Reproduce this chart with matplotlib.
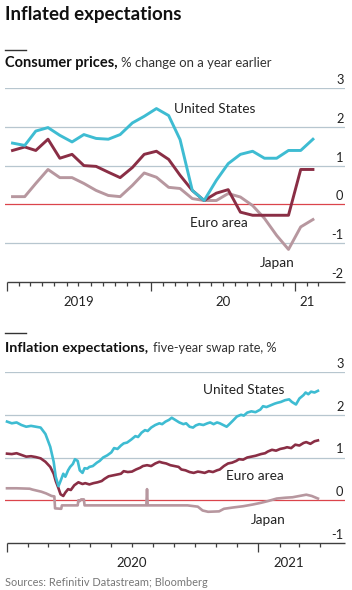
import matplotlib
matplotlib.use("Agg")
import matplotlib.pyplot as plt
import matplotlib.dates as mdates
from matplotlib.lines import Line2D
from matplotlib.transforms import blended_transform_factory
import pandas as pd
import numpy as np

FONT = "Lato"
plt.rcParams['font.family'] = [FONT, 'DejaVu Sans']

# ---------------- data ----------------
cpi_months = pd.date_range("2019-01-01", periods=26, freq="MS") + pd.Timedelta(days=14)
us_cpi = [1.58, 1.52, 1.89, 1.98, 1.78, 1.61, 1.80, 1.70, 1.68, 1.80, 2.10, 2.27, 2.47,
          2.29, 1.67, 0.36, 0.10, 0.62, 1.05, 1.29, 1.37, 1.19, 1.19, 1.39, 1.39, 1.68]
euro_cpi = [1.39, 1.48, 1.39, 1.68, 1.19, 1.29, 1.00, 0.98, 0.83, 0.69, 0.95, 1.29, 1.37,
            1.16, 0.75, 0.36, 0.10, 0.29, 0.38, -0.20, -0.28, -0.28, -0.28, -0.28, 0.90, 0.90]
japan_cpi = [0.20, 0.20, 0.54, 0.90, 0.69, 0.69, 0.54, 0.36, 0.23, 0.20, 0.49, 0.81, 0.70,
             0.44, 0.41, 0.15, 0.10, 0.10, 0.28, 0.19, -0.03, -0.36, -0.80, -1.16, -0.58, -0.39]

us_swap_dates = ["2020-01-01", "2020-01-08", "2020-01-15", "2020-01-22", "2020-01-29", "2020-02-05",
                 "2020-02-12", "2020-02-19", "2020-02-26", "2020-03-04", "2020-03-09", "2020-03-12",
                 "2020-03-16", "2020-03-19", "2020-03-23", "2020-03-26", "2020-03-30", "2020-04-02",
                 "2020-04-06", "2020-04-09", "2020-04-13", "2020-04-16", "2020-04-20", "2020-04-23",
                 "2020-04-27", "2020-04-30", "2020-05-05", "2020-05-11", "2020-05-15", "2020-05-20",
                 "2020-05-26", "2020-06-01", "2020-06-05", "2020-06-10", "2020-06-15", "2020-06-19",
                 "2020-06-24", "2020-06-30", "2020-07-06", "2020-07-10", "2020-07-15", "2020-07-20",
                 "2020-07-24", "2020-07-29", "2020-08-04", "2020-08-10", "2020-08-14", "2020-08-19",
                 "2020-08-24", "2020-08-28", "2020-09-02", "2020-09-08", "2020-09-14", "2020-09-18",
                 "2020-09-23", "2020-09-28", "2020-10-02", "2020-10-07", "2020-10-13", "2020-10-19",
                 "2020-10-23", "2020-10-28", "2020-11-02", "2020-11-06", "2020-11-11", "2020-11-16",
                 "2020-11-20", "2020-11-25", "2020-12-01", "2020-12-07", "2020-12-11", "2020-12-16",
                 "2020-12-22", "2020-12-28", "2021-01-04", "2021-01-08", "2021-01-13", "2021-01-19",
                 "2021-01-25", "2021-01-29", "2021-02-03", "2021-02-09", "2021-02-15", "2021-02-19",
                 "2021-02-25", "2021-03-02", "2021-03-08", "2021-03-11", "2021-03-15", "2021-03-19",
                 "2021-03-24", "2021-03-29"]
us_swap = [1.84, 1.80, 1.82, 1.76, 1.72, 1.74, 1.72, 1.70, 1.55, 1.25, 0.90, 0.55,
           0.33, 0.45, 0.62, 0.55, 0.70, 0.78, 0.85, 0.96, 0.92, 0.70, 0.64, 0.75,
           0.74, 0.78, 0.80, 0.88, 0.92, 1.00, 1.05, 1.12, 1.22, 1.20, 1.28, 1.33,
           1.35, 1.42, 1.50, 1.48, 1.58, 1.64, 1.62, 1.70, 1.76, 1.80, 1.78, 1.84,
           1.88, 1.93, 1.88, 1.82, 1.78, 1.80, 1.72, 1.70, 1.75, 1.78, 1.76, 1.80,
           1.82, 1.78, 1.82, 1.80, 1.76, 1.72, 1.78, 1.86, 1.96, 2.00, 1.98, 2.05,
           2.08, 2.06, 2.12, 2.20, 2.18, 2.22, 2.26, 2.28, 2.30, 2.34, 2.36, 2.30,
           2.24, 2.38, 2.46, 2.52, 2.48, 2.54, 2.52, 2.56]

euro_swap_dates = ["2020-01-01", "2020-01-08", "2020-01-15", "2020-01-22", "2020-01-29", "2020-02-05",
                   "2020-02-12", "2020-02-19", "2020-02-26", "2020-03-04", "2020-03-09", "2020-03-12",
                   "2020-03-16", "2020-03-19", "2020-03-23", "2020-03-26", "2020-03-30", "2020-04-03",
                   "2020-04-08", "2020-04-14", "2020-04-20", "2020-04-24", "2020-04-30", "2020-05-06",
                   "2020-05-12", "2020-05-18", "2020-05-22", "2020-05-28", "2020-06-03", "2020-06-09",
                   "2020-06-15", "2020-06-19", "2020-06-25", "2020-07-01", "2020-07-07", "2020-07-13",
                   "2020-07-17", "2020-07-23", "2020-07-29", "2020-08-04", "2020-08-10", "2020-08-14",
                   "2020-08-20", "2020-08-26", "2020-09-01", "2020-09-07", "2020-09-11", "2020-09-17",
                   "2020-09-23", "2020-09-29", "2020-10-05", "2020-10-09", "2020-10-15", "2020-10-21",
                   "2020-10-27", "2020-11-02", "2020-11-06", "2020-11-12", "2020-11-18", "2020-11-24",
                   "2020-11-30", "2020-12-04", "2020-12-10", "2020-12-16", "2020-12-22", "2020-12-28",
                   "2021-01-05", "2021-01-11", "2021-01-15", "2021-01-21", "2021-01-27", "2021-02-02",
                   "2021-02-08", "2021-02-12", "2021-02-18", "2021-02-24", "2021-03-02", "2021-03-08",
                   "2021-03-12", "2021-03-18", "2021-03-24", "2021-03-29"]
euro_swap = [1.09, 1.08, 1.10, 1.06, 1.02, 1.03, 1.01, 0.98, 0.90, 0.78, 0.62, 0.45,
             0.28, 0.14, 0.10, 0.18, 0.26, 0.24, 0.35, 0.42, 0.38, 0.40, 0.37, 0.40,
             0.42, 0.45, 0.50, 0.56, 0.58, 0.60, 0.62, 0.68, 0.66, 0.67, 0.72, 0.76,
             0.80, 0.82, 0.80, 0.86, 0.90, 0.88, 0.86, 0.82, 0.80, 0.78, 0.72, 0.70,
             0.66, 0.64, 0.67, 0.66, 0.64, 0.68, 0.66, 0.70, 0.72, 0.80, 0.86, 0.88,
             0.92, 0.96, 0.95, 1.00, 1.02, 1.04, 1.08, 1.10, 1.14, 1.18, 1.16, 1.20,
             1.22, 1.24, 1.22, 1.30, 1.28, 1.34, 1.36, 1.32, 1.38, 1.40]

japan_swap_dates = ["2020-01-01", "2020-01-15", "2020-02-03", "2020-02-07", "2020-02-20", "2020-02-27",
                    "2020-03-06", "2020-03-10", "2020-03-11", "2020-03-20", "2020-03-21", "2020-04-13",
                    "2020-04-14", "2020-04-16", "2020-04-18", "2020-04-22", "2020-04-23", "2020-07-22",
                    "2020-07-23", "2020-07-24", "2020-09-20", "2020-10-05", "2020-10-12", "2020-10-20",
                    "2020-11-05", "2020-11-12", "2020-11-25", "2020-12-10", "2020-12-24", "2021-01-05",
                    "2021-01-15", "2021-01-28", "2021-02-10", "2021-02-20", "2021-03-02", "2021-03-12",
                    "2021-03-20", "2021-03-29"]
japan_swap = [0.28, 0.28, 0.27, 0.25, 0.20, 0.16, 0.10, 0.09, -0.19, -0.20, -0.12, -0.12,
              0.00, -0.02, 0.02, 0.02, -0.12, -0.12, 0.26, -0.12, -0.12, -0.15, -0.24, -0.27,
              -0.26, -0.20, -0.17, -0.14, -0.10, -0.06, -0.02, 0.04, 0.06, 0.07, 0.10, 0.13,
              0.10, 0.04]

cpi_yticks = [3, 2, 1, 0, -1, -2]
swap_yticks = [3, 2, 1, 0, -1]

# ---------------- style ----------------
US_C = "#3EBCD2"
EU_C = "#8A2E45"
JP_C = "#B7979F"
GRID_C = "#B7C6CF"
ZERO_C = "#DB444B"
AXIS_C = "#3F3F3F"
TXT_C = "#222222"
LABEL_FS = 9.8

W, H = 352, 590
fig = plt.figure(figsize=(W / 100, H / 100), dpi=100)
fig.patch.set_facecolor("white")
renderer = fig.canvas.get_renderer()


def fy(py):
    return 1 - py / H


def fit(t, target_px):
    for _ in range(3):
        w = t.get_window_extent(renderer).width
        if w > 0:
            t.set_fontsize(t.get_fontsize() * target_px / w)
    return t


def setup(ax, ylo, yhi, yticks, tick_start, tick_end, day0, days_per_px):
    left_px, right_px = 5, 345
    x0 = mdates.date2num(pd.Timestamp(day0)) - 2 * days_per_px
    ax.set_xlim(x0, x0 + (right_px - left_px) * days_per_px)
    ax.set_ylim(ylo, yhi)
    for s in ax.spines.values():
        s.set_visible(False)
    ax.set_yticks([])
    ax.patch.set_alpha(0)
    trans = blended_transform_factory(ax.transAxes, ax.transData)
    for v in yticks:
        if v == ylo:
            continue
        if v == 0:
            ax.axhline(0, color=ZERO_C, lw=0.9, zorder=1)
        else:
            ax.axhline(v, color=GRID_C, lw=0.9, zorder=1)
    for v in yticks:
        ax.annotate(str(v), xy=(1.0, v), xycoords=trans,
                    xytext=(-1, 1.5), textcoords="offset points",
                    ha="right", va="bottom", fontsize=9.3, color=TXT_C)
    ax.hlines(ylo, mdates.date2num(pd.Timestamp(day0)), ax.get_xlim()[1],
              color=AXIS_C, lw=1.0, zorder=2, clip_on=False)
    months = pd.date_range(tick_start, tick_end, freq="MS")
    years = [m for m in months if m.month == 1]
    minor = [m for m in months if m.month != 1]
    ax.xaxis.set_major_locator(matplotlib.ticker.FixedLocator(mdates.date2num(years)))
    ax.xaxis.set_minor_locator(matplotlib.ticker.FixedLocator(mdates.date2num(minor)))
    ax.tick_params(axis="x", which="major", length=6.5, width=0.9, color=AXIS_C,
                   labelbottom=False)
    ax.tick_params(axis="x", which="minor", length=3.2, width=0.9, color=AXIS_C,
                   labelbottom=False)


def label(ax, d, v, s):
    ax.text(pd.Timestamp(d), v, s, fontsize=LABEL_FS, color=TXT_C, ha="center", va="center")


# ---- top chart ----
ax1 = fig.add_axes([5 / W, fy(282), 340 / W, 194 / H])
setup(ax1, -2, 3, cpi_yticks, "2019-01-01", "2021-03-01", "2019-01-01", 365.25 / 144)
ax1.plot(cpi_months, japan_cpi, color=JP_C, lw=2.1, zorder=3)
ax1.plot(cpi_months, euro_cpi, color=EU_C, lw=2.1, zorder=4)
ax1.plot(cpi_months, us_cpi, color=US_C, lw=2.1, zorder=5)

label(ax1, "2020-06-10", 2.45, "United States")
label(ax1, "2020-06-22", -0.49, "Euro area")
label(ax1, "2020-11-16", -1.5, "Japan")
for lab, d in [("2019", "2019-07-01"), ("20", "2020-07-01"), ("21", "2021-02-01")]:
    ax1.annotate(lab, xy=(mdates.date2num(pd.Timestamp(d)), -2), xycoords="data",
                 xytext=(0, -10), textcoords="offset points", ha="center", va="top",
                 fontsize=9.5, color=TXT_C, annotation_clip=False)

# ---- bottom chart ----
ax2 = fig.add_axes([5 / W, fy(543), 340 / W, 171 / H])
setup(ax2, -1, 3, swap_yticks, "2020-01-01", "2021-04-01", "2020-01-01", 456 / 313)
ax2.plot(pd.to_datetime(japan_swap_dates), japan_swap, color=JP_C, lw=1.9, zorder=3)
ax2.plot(pd.to_datetime(euro_swap_dates), euro_swap, color=EU_C, lw=1.9, zorder=4)
ax2.plot(pd.to_datetime(us_swap_dates), us_swap, color=US_C, lw=1.9, zorder=5)

label(ax2, "2020-12-11", 2.57, "United States")
label(ax2, "2020-12-27", 0.56, "Euro area")
label(ax2, "2021-01-16", -0.47, "Japan")
for lab, d in [("2020", "2020-07-01"), ("2021", "2021-02-15")]:
    ax2.annotate(lab, xy=(mdates.date2num(pd.Timestamp(d)), -1), xycoords="data",
                 xytext=(0, -10), textcoords="offset points", ha="center", va="top",
                 fontsize=9.5, color=TXT_C, annotation_clip=False)

# ---- titles ----
title = fig.text(5 / W, fy(20), "Inflated expectations", fontsize=13, weight="bold",
                 color="#111111", va="baseline", ha="left")
fit(title, 177)


def subtitle(py, bold, rest, w_bold, x_rest, w_rest):
    t = fig.text(5 / W, fy(py), bold, fontsize=10, weight="bold", color="#111111",
                 va="baseline", ha="left")
    fit(t, w_bold)
    t2 = fig.text(x_rest / W, fy(py), rest, fontsize=9.3, color="#333333",
                  va="baseline", ha="left")
    fit(t2, w_rest)


subtitle(67, "Consumer prices,", "% change on a year earlier", 113, 121, 149)
subtitle(352, "Inflation expectations,", "five-year swap rate, %", 143, 153, 125)
fig.add_artist(Line2D([5 / W, 26 / W], [fy(50), fy(50)], color="#333333", lw=1.0))
fig.add_artist(Line2D([5 / W, 26 / W], [fy(333), fy(333)], color="#333333", lw=1.0))

src = fig.text(5 / W, fy(586), "Sources: Refinitiv Datastream; Bloomberg", fontsize=8.8,
               color="#777777", va="baseline", ha="left")
fit(src, 203)

fig.savefig("out.png", dpi=100, facecolor="white")
